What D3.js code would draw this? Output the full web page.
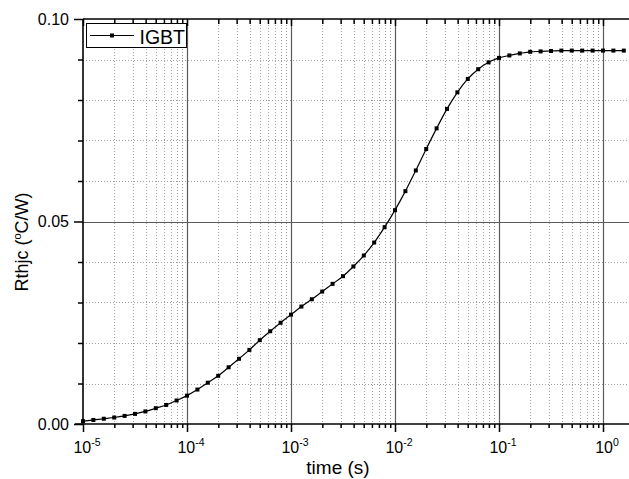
<!DOCTYPE html>
<html><head><meta charset="utf-8">
<script src="https://cdn.jsdelivr.net/npm/d3@7"></script>
<style>body{margin:0;background:#fff;}svg{display:block;font-family:"Liberation Sans",Arial,sans-serif;}</style>
</head><body><svg id="c" width="629" height="479"></svg>
<script>
// Data: time points (log-spaced, 10 per decade) and thermal impedance values
const exponents = d3.range(0, 53).map(k => -5 + k / 10);
const times = exponents.map(e => Math.pow(10, e));
const rthjc = [0.0007,0.0010,0.0013,0.0016,0.0020,0.0025,0.0031,0.0039,0.0047,0.0058,
  0.0070,0.0085,0.0102,0.0119,0.0140,0.0161,0.0183,0.0207,0.0229,0.0250,
  0.0270,0.0290,0.0308,0.0327,0.0346,0.0365,0.0389,0.0416,0.0448,0.0486,
  0.0528,0.0575,0.0626,0.0679,0.0730,0.0778,0.0819,0.0852,0.0876,0.0893,
  0.0904,0.0910,0.0915,0.0919,0.0920,0.0921,0.0922,0.0922,0.0922,0.0922,
  0.0922,0.0922,0.0922];
const xDecades = [-5,-4,-3,-2,-1,0];
const yTicks = [0, 0.05, 0.10];
const yTickLabels = ["0.00","0.05","0.10"];
const yMinorTicks = [0.01,0.02,0.03,0.04,0.06,0.07,0.08,0.09];
const seriesName = "IGBT";

(function () {
const svg = d3.select("#c");
const L = 83, T = 19, B = 424;
const x = d3.scaleLog().domain([1e-5, Math.pow(10, 0.26)]).range([L, L + 104 * 5.26]);
const y = d3.scaleLinear().domain([0, 0.1]).range([B, T]);
const R = x.range()[1];

const minorX = [];
xDecades.forEach(d => { for (let m = 2; m <= 9; m++) { const v = m * Math.pow(10, d); if (v <= x.domain()[1]) minorX.push(v); } });
const majorX = xDecades.map(d => Math.pow(10, d));

const grid = svg.append("g");
grid.selectAll(".vminor").data(minorX).enter().append("line")
  .attr("x1", d => Math.round(x(d)) + 0.5).attr("x2", d => Math.round(x(d)) + 0.5)
  .attr("y1", T).attr("y2", B).attr("stroke", "#a0a0a0").attr("stroke-dasharray", "1,2");
grid.selectAll(".hminor").data(yMinorTicks).enter().append("line")
  .attr("y1", d => Math.round(y(d)) + 0.5).attr("y2", d => Math.round(y(d)) + 0.5)
  .attr("x1", L).attr("x2", R).attr("stroke", "#a0a0a0").attr("stroke-dasharray", "1,2");
grid.selectAll(".vmajor").data(majorX.slice(1)).enter().append("line")
  .attr("x1", d => Math.round(x(d)) + 0.5).attr("x2", d => Math.round(x(d)) + 0.5)
  .attr("y1", T).attr("y2", B).attr("stroke", "#5a5a5a").attr("stroke-width", 1.2);
grid.append("line").attr("x1", L).attr("x2", R)
  .attr("y1", Math.round(y(0.05)) + 0.5).attr("y2", Math.round(y(0.05)) + 0.5)
  .attr("stroke", "#5a5a5a").attr("stroke-width", 1.2);

// Axes
const gBottom = svg.append("g").attr("transform", `translate(0,${B})`);
gBottom.call(d3.axisBottom(x).tickValues(minorX).tickSize(4).tickFormat(""));
gBottom.append("g").call(d3.axisBottom(x).tickValues(majorX).tickSize(8).tickFormat(""));
const gTop = svg.append("g").attr("transform", `translate(0,${T})`);
gTop.call(d3.axisBottom(x).tickValues(minorX).tickSize(5).tickFormat(""));
gTop.append("g").call(d3.axisBottom(x).tickValues(majorX).tickSize(7).tickFormat(""));
const gLeft = svg.append("g").attr("transform", `translate(${L},0)`);
gLeft.call(d3.axisLeft(y).tickValues(yMinorTicks).tickSize(5).tickFormat(""));
gLeft.append("g").call(d3.axisLeft(y).tickValues(yTicks).tickSize(9).tickFormat(""));
svg.selectAll(".domain").remove();
svg.selectAll(".tick line").attr("stroke", "#000").attr("stroke-width", 1.5);
svg.append("line").attr("x1", 75).attr("x2", R).attr("y1", B).attr("y2", B).attr("stroke", "#000").attr("stroke-width", 1.6);
svg.append("line").attr("x1", L).attr("x2", R).attr("y1", T).attr("y2", T).attr("stroke", "#000").attr("stroke-width", 1.6);
svg.append("line").attr("x1", L).attr("x2", L).attr("y1", T).attr("y2", B).attr("stroke", "#000").attr("stroke-width", 1.6);

// Tick labels
svg.selectAll(".yl").data(yTicks).enter().append("text")
  .attr("x", 69).attr("y", d => y(d) + 5.5).attr("text-anchor", "end")
  .attr("font-size", 16).text((d, i) => yTickLabels[i]);
const xl = svg.selectAll(".xl").data(xDecades).enter().append("text")
  .attr("x", d => x(Math.pow(10, d)) + 4).attr("y", 453).attr("text-anchor", "middle").attr("font-size", 16);
xl.append("tspan").text("10");
xl.append("tspan").attr("font-size", 10.5).attr("dy", -7).text(d => String(d));

// Axis titles
svg.append("text").attr("x", 338).attr("y", 474).attr("text-anchor", "middle").attr("font-size", 19).text("time (s)");
const yt = svg.append("text").attr("transform", "translate(28,242) rotate(-90)").attr("text-anchor", "middle").attr("font-size", 18);
yt.append("tspan").text("Rthjc (");
yt.append("tspan").attr("font-size", 11).attr("dy", -7).text("o");
yt.append("tspan").attr("dy", 7).text("C/W)");

// Series
const pts = times.map((t, i) => [t, rthjc[i]]);
svg.append("path").datum(pts)
  .attr("d", d3.line().x(d => x(d[0])).y(d => y(d[1])).curve(d3.curveMonotoneX))
  .attr("fill", "none").attr("stroke", "#000").attr("stroke-width", 1.2);
svg.selectAll(".m").data(pts).enter().append("rect")
  .attr("x", d => x(d[0]) - 2).attr("y", d => y(d[1]) - 2).attr("width", 4).attr("height", 4).attr("fill", "#000");

// Legend
const lg = svg.append("g");
lg.append("rect").attr("x", 86.5).attr("y", 23.5).attr("width", 100).attr("height", 24).attr("fill", "#fff").attr("stroke", "#000").attr("stroke-width", 1);
lg.append("line").attr("x1", 90).attr("x2", 134).attr("y1", 35.5).attr("y2", 35.5).attr("stroke", "#000").attr("stroke-width", 1.2);
lg.append("rect").attr("x", 110).attr("y", 33.5).attr("width", 4).attr("height", 4).attr("fill", "#000");
lg.append("text").attr("x", 139.5).attr("y", 43.5).attr("font-size", 19.5).text(seriesName);
})();
</script></body></html>
